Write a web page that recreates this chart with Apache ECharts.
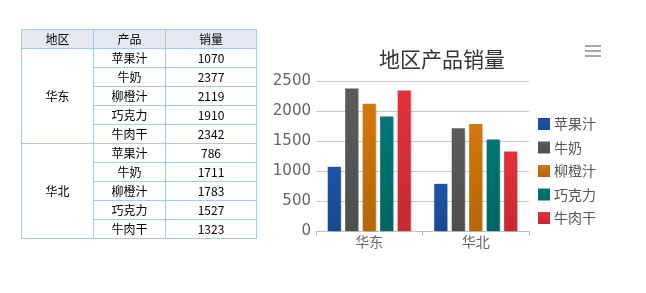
<!DOCTYPE html>
<html>
<head>
<meta charset="utf-8">
<script src="https://cdn.jsdelivr.net/npm/echarts@6/dist/echarts.min.js"></script>
<style>
html,body{margin:0;padding:0;width:646px;height:293px;background:#fff;overflow:hidden;}
#chart{position:absolute;left:0;top:0;width:646px;height:293px;}
#tbl{position:absolute;left:21px;top:29px;border-collapse:collapse;font-family:"Noto Sans CJK SC","DejaVu Sans",sans-serif;font-size:12px;color:#000;}
#tbl td,#tbl th{border:1px solid #a4cdf4;padding:0;height:18px;line-height:18px;text-align:center;font-weight:normal;}
#tbl th{background:#e7e9f2;}
</style>
</head>
<body>
<div id="chart"></div>
<table id="tbl"></table>
<script>
var regions = ['华东', '华北'];
var products = ['苹果汁', '牛奶', '柳橙汁', '巧克力', '牛肉干'];
var salesEast = [1070, 2377, 2119, 1910, 2342];
var salesNorth = [786, 1711, 1783, 1527, 1323];
var headers = ['地区', '产品', '销量'];
var yTicks = [0, 500, 1000, 1500, 2000, 2500];
var colors = ['#1b51a0', '#575757', '#c97209', '#00716f', '#da2f37'];

// build table
var tbl = document.getElementById('tbl');
var html = '<tr><th style="width:71px">' + headers[0] + '</th><th style="width:71px">' + headers[1] + '</th><th style="width:90px">' + headers[2] + '</th></tr>';
var allSales = [salesEast, salesNorth];
for (var r = 0; r < regions.length; r++) {
  for (var p = 0; p < products.length; p++) {
    html += '<tr>';
    if (p === 0) html += '<td rowspan="' + products.length + '">' + regions[r] + '</td>';
    html += '<td>' + products[p] + '</td><td>' + allSales[r][p] + '</td></tr>';
  }
}
tbl.innerHTML = html;

function shade(hex, f) {
  var n = parseInt(hex.slice(1), 16);
  var r = (n >> 16) & 255, g = (n >> 8) & 255, b = n & 255;
  r = Math.round(r * f); g = Math.round(g * f); b = Math.round(b * f);
  return 'rgb(' + Math.min(255, r) + ',' + Math.min(255, g) + ',' + Math.min(255, b) + ')';
}

var chart = echarts.init(document.getElementById('chart'));
var series = products.map(function (name, i) {
  return {
    name: name,
    type: 'bar',
    barGap: '33%',
    barCategoryGap: '22%',
    itemStyle: {
      color: new echarts.graphic.LinearGradient(0, 0, 0, 1, [
        { offset: 0, color: shade(colors[i], 1.05) },
        { offset: 1, color: shade(colors[i], 0.9) }
      ]),
      shadowColor: 'rgba(0,0,0,0.12)',
      shadowOffsetX: 1,
      shadowOffsetY: 1,
      shadowBlur: 1
    },
    data: [salesEast[i], salesNorth[i]]
  };
});

chart.setOption({
  animation: false,
  color: colors,
  title: {
    text: '地区产品销量',
    left: 437,
    textAlign: 'center',
    top: 44,
    textStyle: { fontFamily: '"Noto Sans CJK SC", sans-serif', fontSize: 21, fontWeight: 'normal', color: '#333' }
  },
  legend: {
    orient: 'vertical',
    left: 533,
    top: 112,
    itemWidth: 12,
    itemHeight: 12,
    itemGap: 9.5,
    icon: 'rect',
    textStyle: { fontFamily: '"Noto Sans CJK SC", sans-serif', fontSize: 14, color: '#555', lineHeight: 14, padding: [0, 0, 0, -1] }
  },
  grid: { left: 316, right: 117, top: 81, bottom: 62 },
  xAxis: {
    type: 'category',
    data: regions,
    axisLine: { lineStyle: { color: '#c0c0c0' } },
    axisTick: { show: true, length: 5, lineStyle: { color: '#c0c0c0' } },
    axisLabel: { fontFamily: '"Noto Sans CJK SC", sans-serif', fontSize: 14, color: '#666', margin: 4 }
  },
  yAxis: {
    type: 'value',
    min: yTicks[0],
    max: yTicks[yTicks.length - 1],
    interval: yTicks[1] - yTicks[0],
    axisLine: { show: false },
    axisTick: { show: false },
    splitLine: { lineStyle: { color: '#c8c8c8' } },
    axisLabel: { fontFamily: '"DejaVu Sans", sans-serif', fontSize: 15, color: '#666', margin: 5, formatter: function (v) { return String(v); } }
  },
  graphic: [
    { type: 'rect', shape: { x: 585, y: 45, width: 16, height: 2 }, style: { fill: '#a8a8a8' } },
    { type: 'rect', shape: { x: 585, y: 50, width: 16, height: 2 }, style: { fill: '#a8a8a8' } },
    { type: 'rect', shape: { x: 585, y: 55, width: 16, height: 2 }, style: { fill: '#a8a8a8' } }
  ],
  series: series
});
</script>
</body>
</html>
